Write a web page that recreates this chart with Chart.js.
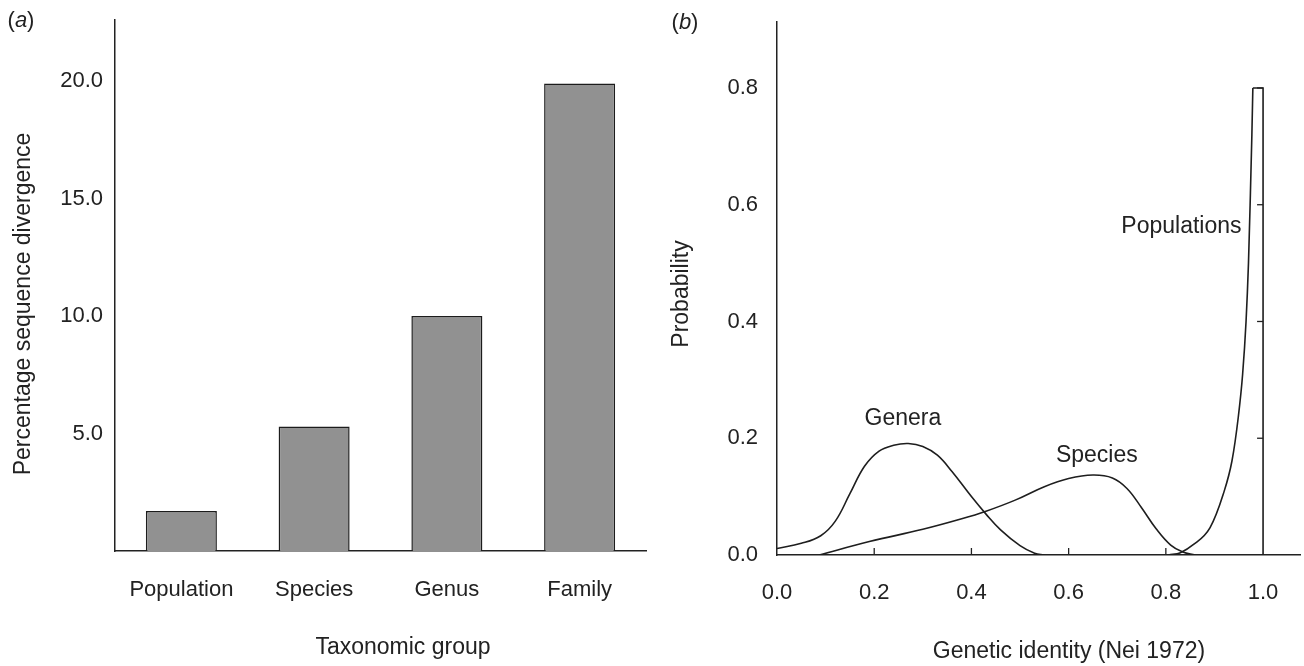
<!DOCTYPE html>
<html><head><meta charset="utf-8">
<script src="https://cdn.jsdelivr.net/npm/chart.js@4/dist/chart.umd.min.js"></script>
<style>
html,body{margin:0;padding:0;background:#fff;width:1304px;height:666px;overflow:hidden}
#ca{position:absolute;left:0;top:0}
#cb{position:absolute;left:652px;top:0}
</style></head><body>
<canvas id="ca" width="652" height="666"></canvas>
<canvas id="cb" width="652" height="666"></canvas>
<script>
// ---- Panel (a): bar chart ----
const groupLabels = ['Population', 'Species', 'Genus', 'Family'];
const divergenceValues = [1.7, 5.3, 10.0, 19.9];
const divergenceTicks = [5, 10, 15, 20];

// ---- Panel (b): probability curves ----
const identityTicks = [0, 0.2, 0.4, 0.6, 0.8, 1.0];
const probabilityTicks = [0, 0.2, 0.4, 0.6, 0.8];
const generaX = [0, 0.05, 0.09, 0.12, 0.15, 0.18, 0.21, 0.24, 0.27, 0.30, 0.33, 0.36, 0.40, 0.43, 0.46, 0.50, 0.53, 0.55];
const generaY = [0.011, 0.02, 0.033, 0.058, 0.105, 0.152, 0.178, 0.188, 0.191, 0.186, 0.171, 0.143, 0.100, 0.070, 0.043, 0.016, 0.003, 0];
const speciesX = [0.087, 0.19, 0.30, 0.38, 0.43, 0.49, 0.55, 0.60, 0.65, 0.69, 0.72, 0.75, 0.78, 0.81, 0.835, 0.86];
const speciesY = [0, 0.023, 0.044, 0.062, 0.075, 0.094, 0.117, 0.131, 0.137, 0.132, 0.114, 0.081, 0.045, 0.017, 0.005, 0];
const populationsX = [0.806, 0.83, 0.857, 0.891, 0.918, 0.936, 0.949, 0.958, 0.965, 0.970, 0.974, 0.977, 0.979];
const populationsY = [0, 0.004, 0.018, 0.047, 0.104, 0.161, 0.236, 0.31, 0.40, 0.50, 0.62, 0.72, 0.8];
const boundX = [0.979, 1.0, 1.0];
const boundY = [0.8, 0.8, 0];
const curveLabels = ['Genera', 'Species', 'Populations'];
const curveLabelX = [0.259, 0.658, 0.832];
const curveLabelY = [0.233, 0.17, 0.562];

const FONT = '"Liberation Sans", Arial, Helvetica, sans-serif';
const INK = '#222';
Chart.defaults.font.family = FONT;
Chart.defaults.color = INK;
Chart.defaults.animation = false;

const pts = (xs, ys) => xs.map((x, i) => ({x: x, y: ys[i]}));
const noPad = s => { s.paddingTop = 0; s.paddingBottom = 0; s.paddingLeft = 0; s.paddingRight = 0; };

const innerTicks = {
  id: 'innerTicks',
  afterDatasetsDraw(chart, args, opts) {
    const ctx = chart.ctx, xs = chart.scales.x, ys = chart.scales.y;
    ctx.save();
    ctx.strokeStyle = INK; ctx.lineWidth = 1.3;
    (opts.marks || []).forEach(m => {
      m.values.forEach(v => {
        ctx.beginPath();
        if (m.axis === 'y') {
          const py = ys.getPixelForValue(v);
          const px = (m.at == null) ? chart.chartArea.left : xs.getPixelForValue(m.at);
          ctx.moveTo(px, py); ctx.lineTo(px + m.len, py);
        } else {
          const px = xs.getPixelForValue(v);
          const py = chart.chartArea.bottom;
          ctx.moveTo(px, py); ctx.lineTo(px, py - m.len);
        }
        ctx.stroke();
      });
    });
    ctx.restore();
  }
};

const textMarks = {
  id: 'textMarks',
  afterDraw(chart, args, opts) {
    const ctx = chart.ctx;
    (opts.items || []).forEach(it => {
      ctx.save();
      ctx.fillStyle = INK;
      ctx.textBaseline = 'middle';
      ctx.textAlign = 'left';
      let x, y;
      if (it.data) { x = chart.scales.x.getPixelForValue(it.data[0]); y = chart.scales.y.getPixelForValue(it.data[1]); }
      else { x = it.pos[0]; y = it.pos[1]; }
      ctx.translate(x, y);
      if (it.rotate) ctx.rotate(it.rotate);
      const segs = it.segs || [{t: it.text}];
      const size = it.size || 23;
      const fonts = segs.map(s => (s.italic ? 'italic ' : '') + size + 'px ' + FONT);
      let total = 0;
      const widths = segs.map((s, i) => { ctx.font = fonts[i]; const w = ctx.measureText(s.t).width; total += w; return w; });
      let cx = -total / 2;
      segs.forEach((s, i) => { ctx.font = fonts[i]; ctx.fillText(s.t, cx, 0); cx += widths[i]; });
      ctx.restore();
    });
  }
};

// Panel (a)
new Chart(document.getElementById('ca'), {
  type: 'bar',
  data: {
    labels: groupLabels,
    datasets: [{
      data: divergenceValues,
      backgroundColor: '#919191',
      borderColor: '#1c1c1c',
      borderWidth: 1.5,
      borderSkipped: 'bottom',
      barPercentage: 0.535,
      categoryPercentage: 1
    }]
  },
  options: {
    responsive: false,
    devicePixelRatio: 1,
    layout: {padding: {left: 0, right: 6, top: 20, bottom: 0}},
    plugins: {
      legend: {display: false},
      tooltip: {enabled: false},
      innerTicks: {marks: [{axis: 'y', values: divergenceTicks, len: 6}]},
      textMarks: {items: [
        {segs: [{t: '('}, {t: 'a', italic: true}, {t: ')'}], pos: [21, 21], size: 22},
        {text: 'Percentage sequence divergence', pos: [24, 304], rotate: -Math.PI / 2, size: 23},
        {text: 'Taxonomic group', pos: [403, 648], size: 23}
      ]}
    },
    scales: {
      x: {
        grid: {display: true, drawOnChartArea: false, drawTicks: false},
        border: {display: true, color: INK, width: 1.5},
        ticks: {font: {size: 22}, color: INK, padding: 26, maxRotation: 0},
        afterFit: s => { s.height = 666 - 551; noPad(s); }
      },
      y: {
        min: 0, max: 22.6,
        grid: {display: true, drawOnChartArea: false, drawTicks: false},
        border: {display: true, color: INK, width: 1.5},
        afterBuildTicks: s => { s.ticks = divergenceTicks.map(v => ({value: v})); },
        ticks: {font: {size: 22}, color: INK, padding: 12, callback: v => Number(v).toFixed(1)},
        afterFit: s => { s.width = 115; noPad(s); }
      }
    }
  },
  plugins: [innerTicks, textMarks]
});

// Panel (b)
const lineStyle = {showLine: true, pointRadius: 0, borderColor: '#1e1e1e', borderWidth: 1.6, fill: false};
new Chart(document.getElementById('cb'), {
  type: 'scatter',
  data: {
    datasets: [
      Object.assign({label: curveLabels[0], data: pts(generaX, generaY), tension: 0.4}, lineStyle),
      Object.assign({label: curveLabels[1], data: pts(speciesX, speciesY), tension: 0.4}, lineStyle),
      Object.assign({label: curveLabels[2], data: pts(populationsX, populationsY), cubicInterpolationMode: 'monotone'}, lineStyle),
      Object.assign({label: 'bound', data: pts(boundX, boundY), tension: 0}, lineStyle)
    ]
  },
  options: {
    responsive: false,
    devicePixelRatio: 1,
    layout: {padding: {left: 0, right: 4, top: 22, bottom: 0}},
    plugins: {
      legend: {display: false},
      tooltip: {enabled: false},
      innerTicks: {marks: [
        {axis: 'y', values: probabilityTicks.slice(1), len: 6},
        {axis: 'y', values: probabilityTicks.slice(1), len: -6, at: 1.0},
        {axis: 'x', values: identityTicks.slice(1, 5), len: 7}
      ]},
      textMarks: {items: [
        {segs: [{t: '('}, {t: 'b', italic: true}, {t: ')'}], pos: [33, 23], size: 22},
        {text: 'Probability', pos: [30, 294], rotate: -Math.PI / 2, size: 23},
        {text: 'Genetic identity (Nei 1972)', pos: [417, 652], size: 23},
        {text: curveLabels[0], data: [curveLabelX[0], curveLabelY[0]], size: 23},
        {text: curveLabels[1], data: [curveLabelX[1], curveLabelY[1]], size: 23},
        {text: curveLabels[2], data: [curveLabelX[2], curveLabelY[2]], size: 23}
      ]}
    },
    scales: {
      x: {
        type: 'linear', min: 0, max: 1.076,
        grid: {display: true, drawOnChartArea: false, drawTicks: false},
        border: {display: true, color: INK, width: 1.5},
        afterBuildTicks: s => { s.ticks = identityTicks.map(v => ({value: v})); },
        ticks: {font: {size: 22}, color: INK, padding: 25, maxRotation: 0, callback: v => Number(v).toFixed(1)},
        afterFit: s => { s.height = 666 - 555; noPad(s); }
      },
      y: {
        type: 'linear', min: 0, max: 0.913,
        grid: {display: true, drawOnChartArea: false, drawTicks: false},
        border: {display: true, color: INK, width: 1.5},
        afterBuildTicks: s => { s.ticks = probabilityTicks.map(v => ({value: v})); },
        ticks: {font: {size: 22}, color: INK, padding: 19, callback: v => Number(v).toFixed(1)},
        afterFit: s => { s.width = 777 - 652; noPad(s); }
      }
    }
  },
  plugins: [innerTicks, textMarks]
});
</script>
</body></html>
